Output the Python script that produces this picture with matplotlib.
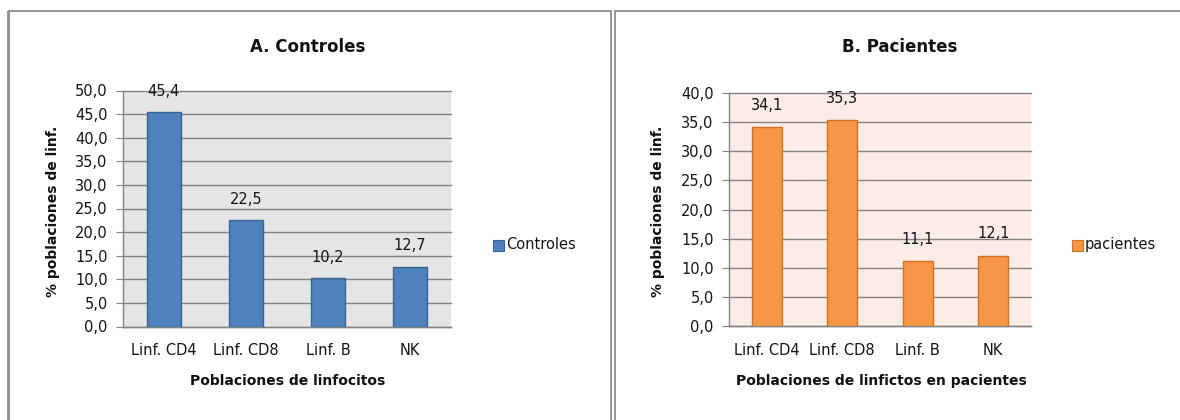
import matplotlib
matplotlib.use("Agg")
import matplotlib.pyplot as plt
from matplotlib.lines import Line2D
from matplotlib.patches import Rectangle
from matplotlib.ticker import FuncFormatter, MultipleLocator

plt.rcParams['font.family'] = ['DejaVu Sans']

categories = ["Linf. CD4", "Linf. CD8", "Linf. B", "NK"]
controles = [45.4, 22.5, 10.2, 12.7]
pacientes = [34.1, 35.3, 11.1, 12.1]
labels_controles = ["45,4", "22,5", "10,2", "12,7"]
labels_pacientes = ["34,1", "35,3", "11,1", "12,1"]

W, H = 1180, 420
fig = plt.figure(figsize=(W / 100, H / 100), dpi=100)
fig.patch.set_facecolor("white")


def fx(x):
    return x / W


def fy(y):
    return 1 - y / H


def line(xs, ys, lw=1.6, color="#8c8c8c"):
    fig.add_artist(Line2D([fx(x) for x in xs], [fy(y) for y in ys],
                          transform=fig.transFigure, color=color, lw=lw,
                          solid_capstyle="butt", solid_joinstyle="miter"))


# panel borders
line([8.5, 8.5, 610.5, 610.5], [421, 10.5, 10.5, 421], lw=1.3)
line([8.0, 8.0], [421, 10.5], lw=1.3)
line([615.0, 615.0, 1181], [421, 10.5, 10.5], lw=1.3)

grid_c = "#828282"


def fmt(v, pos):
    return f"{v:.1f}".replace(".", ",")


def make_panel(box, values, labels, ymax, bg, face, edge, width, title, title_x,
               xlabel, xlabel_x, ylabel_x, legend_label, leg_x, label_off):
    x0, y0, x1, y1 = box
    ax = fig.add_axes([fx(x0), fy(y1), fx(x1 - x0), (y1 - y0) / H])
    ax.set_facecolor(bg)
    xs = list(range(len(categories)))
    ax.bar(xs, values, width=width, color=face, edgecolor=edge, linewidth=1.0, zorder=3)
    ax.set_xlim(-0.5, len(categories) - 0.5)
    ax.set_ylim(0, ymax)
    ax.yaxis.set_major_locator(MultipleLocator(5))
    ax.yaxis.set_major_formatter(FuncFormatter(fmt))
    ax.set_axisbelow(True)
    ax.grid(axis="y", color=grid_c, lw=1.0, zorder=0, clip_on=False)
    ax.grid(axis="x", visible=False)
    for s in ["top", "right"]:
        ax.spines[s].set_visible(False)
    for s in ["left", "bottom"]:
        ax.spines[s].set_color(grid_c)
        ax.spines[s].set_linewidth(1.0)
    ax.set_xticks(xs)
    ax.set_xticklabels(categories, fontsize=10.5, color="#141414")
    ax.tick_params(axis="x", length=0, pad=12)
    ax.tick_params(axis="y", length=5, color=grid_c, pad=6, labelsize=10.5,
                   labelcolor="#141414")
    for x, v, lab in zip(xs, values, labels):
        ax.annotate(lab, (x, v), xytext=(0, label_off), textcoords="offset points",
                    ha="center", va="center", fontsize=10.5, color="#141414")
    fig.text(fx(title_x), fy(46.5), title, ha="center", va="center", fontsize=12,
             fontweight="bold", color="#111111")
    fig.text(fx(xlabel_x), fy(381), xlabel, ha="center", va="center", fontsize=10,
             fontweight="bold", color="#111111")
    fig.text(fx(ylabel_x), fy(211), "% poblaciones de linf.", ha="center", va="center",
             rotation=90, fontsize=10, fontweight="bold", color="#111111")
    # legend
    fig.add_artist(Rectangle((fx(leg_x), fy(250.5)), fx(11), 11 / H,
                             transform=fig.transFigure, facecolor=face, edgecolor=edge,
                             lw=0.8))
    fig.text(fx(leg_x + 13), fy(244.5), legend_label, ha="left", va="center",
             fontsize=10.5, color="#141414")
    return ax


make_panel((123, 90.5, 451, 326.5), controles, labels_controles, 50, "#e5e5e5",
           "#4f81bd", "#3a6592", 0.415, "A. Controles", 308,
           "Poblaciones de linfocitos", 288, 53, "Controles", 493, 15)
make_panel((729, 93, 1031, 326), pacientes, labels_pacientes, 40, "#fcece7",
           "#f79646", "#d0721f", 0.40, "B. Pacientes", 900,
           "Poblaciones de linfictos en pacientes", 881, 658, "pacientes", 1072, 16)

fig.savefig("out.png", dpi=100, facecolor="white")
